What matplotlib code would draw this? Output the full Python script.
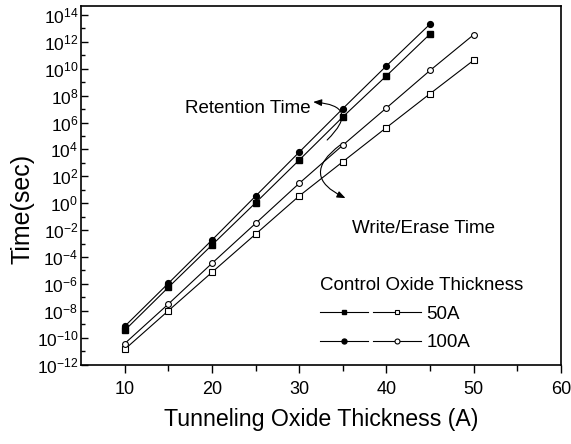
import numpy as np
import matplotlib
matplotlib.use("Agg")
import matplotlib.pyplot as plt
from matplotlib.legend_handler import HandlerTuple
from matplotlib.ticker import FixedLocator, NullFormatter

plt.rcParams['font.family'] = ['Liberation Sans', 'DejaVu Sans']
plt.rcParams['mathtext.fontset'] = 'custom'
plt.rcParams['mathtext.rm'] = 'Liberation Sans'

# tunneling oxide thickness (A)
thick_ret = [10, 15, 20, 25, 30, 35, 40, 45]
thick_we = [10, 15, 20, 25, 30, 35, 40, 45, 50]

# log10 of time (sec)
ret_50 = [-9.46, -6.26, -3.11, 0.03, 3.21, 6.42, 9.48, 12.59]
ret_100 = [-9.16, -5.96, -2.74, 0.53, 3.80, 7.04, 10.22, 13.33]
we_50 = [-10.87, -8.00, -5.14, -2.30, 0.54, 3.09, 5.63, 8.15, 10.64]
we_100 = [-10.44, -7.50, -4.47, -1.50, 1.48, 4.32, 7.09, 9.88, 12.54]

ytick_exp = list(range(-12, 15, 2))

fig = plt.figure(figsize=(5.71, 4.44), dpi=100)
ax = fig.add_axes([0.142, 0.179, 0.8405, 0.8075])

lw = 0.8
ms = 4.2
l50r, = ax.plot(thick_ret, 10.0 ** np.array(ret_50), '-s', color='black', lw=lw,
                ms=ms, mfc='black', mec='black')
l100r, = ax.plot(thick_ret, 10.0 ** np.array(ret_100), '-o', color='black', lw=lw,
                 ms=ms, mfc='black', mec='black')
l50w, = ax.plot(thick_we, 10.0 ** np.array(we_50), '-s', color='black', lw=lw,
                ms=ms, mfc='white', mec='black', mew=0.8)
l100w, = ax.plot(thick_we, 10.0 ** np.array(we_100), '-o', color='black', lw=lw,
                 ms=ms, mfc='white', mec='black', mew=0.8)

ax.set_yscale('log')
ax.set_xlim(5, 60)
ax.set_ylim(1e-12, 10 ** 14.67)

ax.set_xticks([10, 20, 30, 40, 50, 60])
ax.set_xticks([15, 25, 35, 45, 55], minor=True)
ax.yaxis.set_major_locator(FixedLocator([10.0 ** e for e in ytick_exp]))
ax.set_yticklabels([r'$\mathregular{10^{%d}}$' % e for e in ytick_exp])
ax.yaxis.set_minor_locator(FixedLocator([10.0 ** e for e in range(-11, 15, 2)]))
ax.yaxis.set_minor_formatter(NullFormatter())

ax.tick_params(axis='x', which='major', direction='out', length=6, width=1,
               labelsize=13, pad=6, top=False)
ax.tick_params(axis='x', which='minor', direction='out', length=4, width=1, top=False)
ax.tick_params(axis='y', which='major', direction='in', length=5, width=1,
               labelsize=12.5, pad=2, right=False)
ax.tick_params(axis='y', which='minor', direction='in', length=3, width=1, right=False)
for s in ax.spines.values():
    s.set_linewidth(1.2)

ax.set_xlabel('Tunneling Oxide Thickness (A)', fontsize=16.7, labelpad=7)
ax.set_ylabel('Time(sec)', fontsize=18)
ax.yaxis.set_label_coords(-0.098, 0.434)

ax.text(24.1, 10 ** 7.08, 'Retention Time', fontsize=13.5, ha='center', va='center')
ax.text(44.2, 10 ** -1.85, 'Write/Erase Time', fontsize=13.5, ha='center', va='center')

arrow = dict(arrowstyle='-|>,head_length=0.5,head_width=0.2', color='black', lw=0.8,
             shrinkA=0, shrinkB=0)
ax.annotate('', xy=(31.6, 10 ** 7.53), xytext=(33.2, 10 ** 4.7),
            arrowprops=dict(arrow, connectionstyle='arc3,rad=1.1'))
ax.annotate('', xy=(35.3, 10 ** 0.38), xytext=(34.7, 10 ** 4.33),
            arrowprops=dict(arrow, connectionstyle='arc3,rad=0.83'))

leg = ax.legend(handles=[(l50r, l50w), (l100r, l100w)], labels=['50A', '100A'],
                handler_map={tuple: HandlerTuple(ndivide=None, pad=0.3)},
                title='Control Oxide Thickness', title_fontsize=13.5, fontsize=13.5,
                handlelength=5.4, handletextpad=0.3, numpoints=1, frameon=False,
                markerscale=0.85, loc='lower left', bbox_to_anchor=(0.47, 0.0),
                alignment='left', labelspacing=0.62, borderaxespad=0.3)

fig.savefig('out.png', dpi=100)
